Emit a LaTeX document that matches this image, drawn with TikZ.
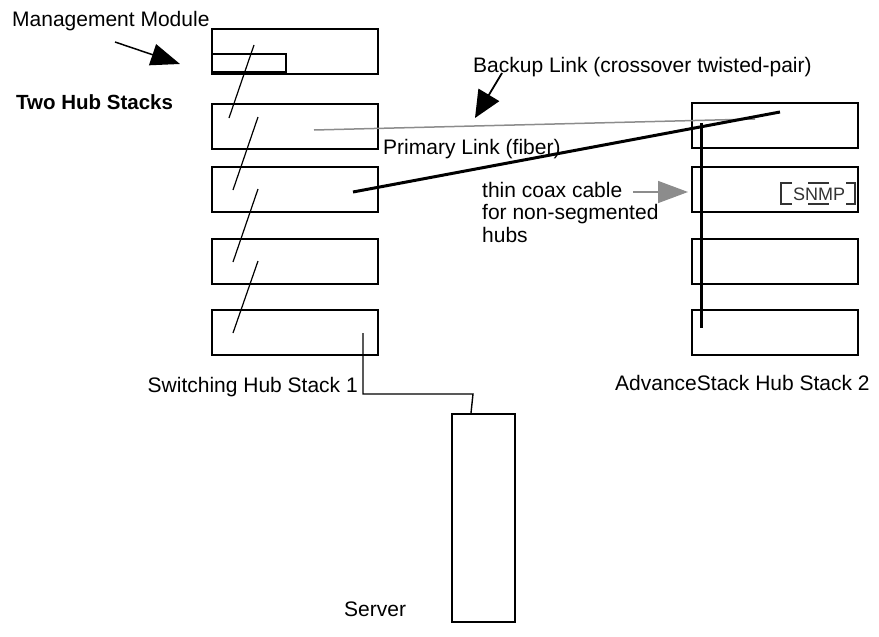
\documentclass[tikz,border=0pt]{standalone}
\usepackage{fontspec}
\setmainfont{Liberation Sans}
\usetikzlibrary{arrows.meta}
\begin{document}
\begin{tikzpicture}[x=1pt,y=-1pt,
  hubbox/.style={draw, line width=2.4pt, rectangle, minimum width=166pt, minimum height=45pt, inner sep=0pt, anchor=north west},
  serverbox/.style={draw, line width=2pt, rectangle, minimum width=63pt, minimum height=208pt, inner sep=0pt, anchor=north west},
  lbl/.style={inner sep=0pt, font=\fontsize{21}{23}\selectfont, anchor=base west},
  stackline/.style={line width=1.2pt},
  thinlink/.style={line width=1.5pt, draw=black!45},
  thicklink/.style={line width=3pt},
  snmpline/.style={line width=1.4pt, draw=black!80}
]
\useasboundingbox (0,0) rectangle (879,637);

% left stack
\node[hubbox] (L1) at (211,28) {};
\node[hubbox] (L2) at (211,103) {};
\node[hubbox] (L3) at (211,166) {};
\node[hubbox] (L4) at (211,238) {};
\node[hubbox] (L5) at (211,309) {};
% management module
\node[draw, line width=2.4pt, rectangle, minimum width=74pt, minimum height=18pt, inner sep=0pt, anchor=north west] (MM) at (211,53) {};
\draw[line width=3.5pt] (MM.south west) -- (MM.south east);

% right stack
\node[hubbox] (R1) at (691,102) {};
\node[hubbox] (R2) at (691,166) {};
\node[hubbox] (R3) at (691,238) {};
\node[hubbox] (R4) at (691,309) {};

% server
\node[serverbox] (SV) at (451,413) {};

% stack cables left
\coordinate (a1) at (254,45);  \coordinate (a2) at (229,118);
\coordinate (b1) at (258,117); \coordinate (b2) at (233,190);
\coordinate (c1) at (258,189); \coordinate (c2) at (233,262);
\coordinate (d1) at (258,261); \coordinate (d2) at (233,333);
\draw[stackline] (a1) -- (a2);
\draw[stackline] (b1) -- (b2);
\draw[stackline] (c1) -- (c2);
\draw[stackline] (d1) -- (d2);

% links
\coordinate (pA) at (314,130); \coordinate (pB) at (755,119);
\draw[thinlink] (pA) -- (pB);
\coordinate (kA) at (353,192); \coordinate (kB) at (780,112);
\draw[thicklink] (kA) -- (kB);

% coax vertical
\coordinate (vA) at (701,123); \coordinate (vB) at (701,328);
\draw[line width=3pt] (vA) -- (vB);

% server connection
\coordinate (sA) at (363,333); \coordinate (sB) at (363,394); \coordinate (sC) at (473,394);
\draw[line width=1.4pt] (sA) -- (sB) -- (sC) -- (SV.north west -| 471,0);

% labels
\node[lbl] (mmlbl) at (12,27) {Management Module};
\node[lbl, font=\fontsize{20.5}{22}\selectfont\bfseries] (title) at (16,109) {Two Hub Stacks};
\node[lbl] (bklbl) at (473,72) {Backup Link (crossover twisted-pair)};
\node[lbl] (prlbl) at (383,154) {Primary Link (fiber)};
\node[lbl] (cx1) at (482,197) {thin coax cable};
\node[lbl] (cx2) at (482,219.5) {for non-segmented};
\node[lbl] (cx3) at (482,242) {hubs};
\node[lbl, anchor=base east] (s1lbl) at (358,392) {Switching Hub Stack 1};
\node[lbl] (s2lbl) at (615,390) {AdvanceStack Hub Stack 2};
\node[lbl] (svlbl) at (344,616) {Server};

% arrows
\coordinate (mA) at (115,42); \coordinate (mB) at (180,64);
\draw[line width=1.5pt, -{Triangle[length=29pt,width=22pt]}] (mA) -- (mB);
\coordinate (bA) at (502,73); \coordinate (bB) at (475,118);
\draw[line width=1.8pt, -{Triangle[length=27pt,width=24pt]}] (bA) -- (bB);
\coordinate (cA) at (633,192); \coordinate (cB) at (688,192);
\draw[line width=1.5pt, draw=black!45, fill=black!45, -{Triangle[length=30pt,width=22pt]}] (cA) -- (cB);

% SNMP badge
\node[inner sep=0pt, font=\fontsize{18}{20}\selectfont, text=black!80] (snmp) at (819,194) {SNMP};
\draw[snmpline] (792,183) -- (781,183) -- (781,204) -- (792,204);
\draw[snmpline] (808,183) -- (829,183);
\draw[snmpline] (808,204) -- (829,204);
\draw[snmpline] (846,183) -- (855,183) -- (855,204) -- (846,204);
\end{tikzpicture}
\end{document}
